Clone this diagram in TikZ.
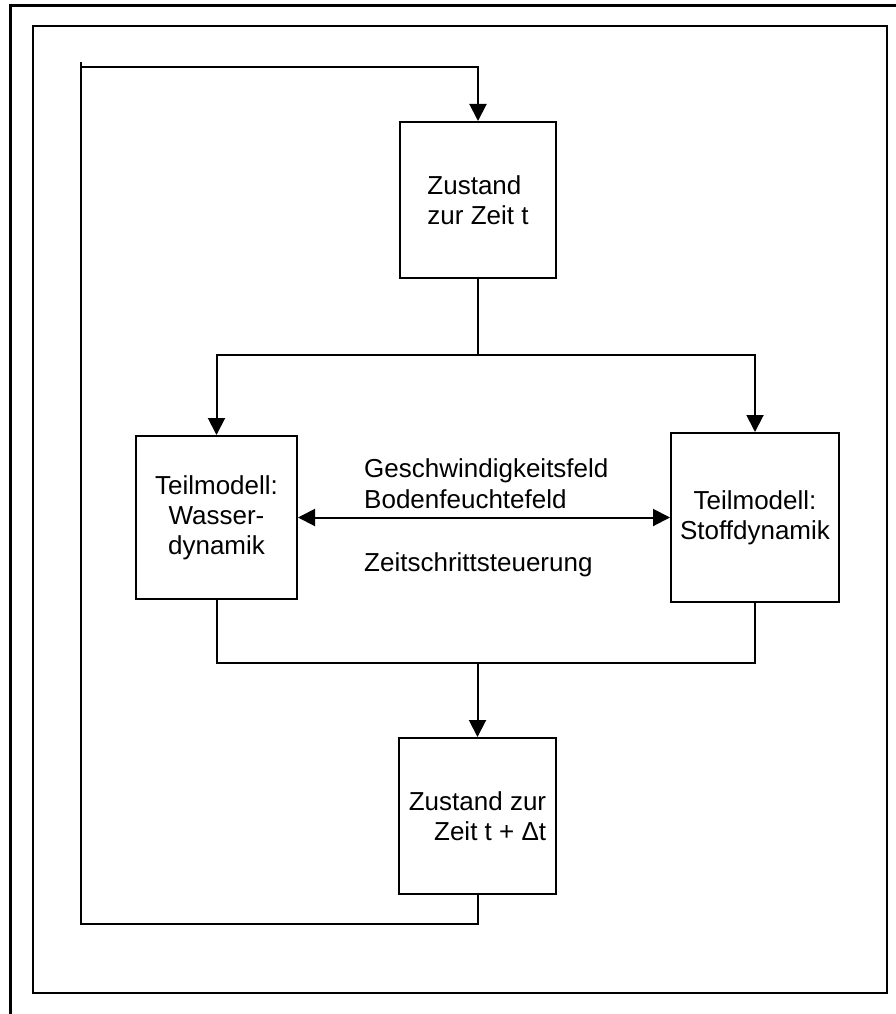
\documentclass[tikz,border=0pt]{standalone}
\usepackage{fontspec}
\setmainfont{Liberation Sans}
\usetikzlibrary{arrows.meta}
\begin{document}
\begin{tikzpicture}[x=1pt,y=1pt,
  box/.style={draw,line width=2pt,inner sep=0pt,font=\fontsize{26pt}{30pt}\selectfont},
  link/.style={line width=2pt},
  arr/.style={line width=2pt,-{Triangle[length=17pt,width=17pt]}},
  darr/.style={line width=2pt,{Triangle[length=17pt,width=17pt]}-{Triangle[length=17pt,width=17pt]}},
  lbl/.style={inner sep=0pt,font=\fontsize{26pt}{30pt}\selectfont}]
\useasboundingbox (0,0) rectangle (896,-1014);
% page frames
\draw[line width=3pt] (10,-1014) -- (10,-6) -- (896,-6);
\draw[line width=2.2pt] (33,-26) rectangle (887,-993);
% process boxes
\node[box,minimum width=156pt,minimum height=156pt,align=left] (b1) at (478,-200) {Zustand\\zur Zeit t};
\node[box,minimum width=161pt,minimum height=163pt,align=center] (b2) at (216.5,-517.5) {Teilmodell:\\Wasser-\\dynamik};
\node[box,minimum width=168pt,minimum height=169pt,align=center] (b3) at (755,-517.5) {Teilmodell:\\Stoffdynamik};
\node[box,minimum width=157pt,minimum height=156pt,align=right] (b4) at (477.5,-816) {Zustand zur\\Zeit t + Δt};
% exchange labels
\node[lbl,anchor=base west] (g1) at (364,-477) {Geschwindigkeitsfeld};
\node[lbl,anchor=base west] (g2) at (364,-508) {Bodenfeuchtefeld};
\node[lbl,anchor=base west] (g3) at (364,-571) {Zeitschrittsteuerung};
% branch points
\coordinate (s1) at (478,-355);
\coordinate (j1) at (477.5,-663);
\coordinate (l1) at (81,-924);
\coordinate (l2) at (81,-67);
% connectors
\draw[link] (b1.south) -- (s1);
\draw[arr] (s1) -| (b2.north);
\draw[arr] (s1) -| (b3.north);
\draw[darr] (b2.east) -- (b3.west);
\draw[link] (b2.south) |- (j1) -| (b3.south);
\draw[arr] (j1) -- (b4.north);
\draw[arr] (b4.south) |- (l1) -- (l2) -| (b1.north);
\draw[link] (l2) -- ++(0,5);
\end{tikzpicture}
\end{document}
